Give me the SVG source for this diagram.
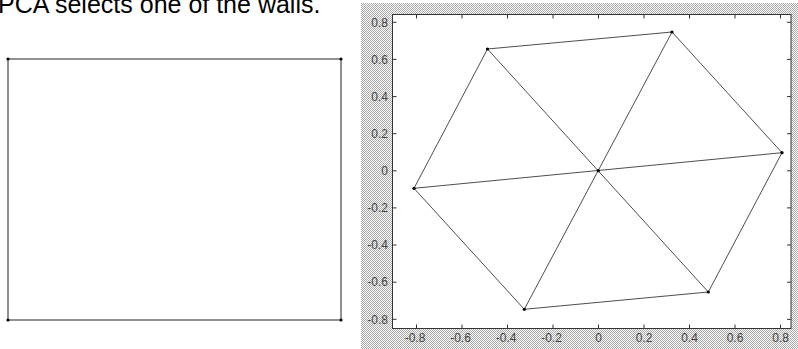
<svg xmlns="http://www.w3.org/2000/svg" width="798" height="349" viewBox="0 0 798 349">
<defs>
<pattern id="dither" width="2" height="2" patternUnits="userSpaceOnUse">
<rect width="2" height="2" fill="#ffffff"/>
<rect x="0" y="0" width="1" height="1" fill="#a8a8a8"/>
<rect x="1" y="1" width="1" height="1" fill="#a8a8a8"/>
</pattern>
<style>
.title{font-family:"Liberation Sans",Arial,sans-serif;font-size:25px;fill:#000}
.wall{stroke:#6e6e6e;stroke-width:1.5;fill:none}
.edge{stroke:#3a3a3a;stroke-width:0.9;fill:none}
.dot{fill:#000}
.tick{stroke:#333;stroke-width:1}
.lbl{font-family:"Liberation Sans",Arial,sans-serif;font-size:12px;fill:#444}
</style>
</defs>
<rect width="798" height="349" fill="#fff"/>
<text class="title" x="-2" y="12.5">PCA selects one of the walls.</text>

<g id="square">
<rect class="wall" x="8" y="59" width="333" height="261"/>
<circle class="dot" cx="8" cy="59" r="1.6"/>
<circle class="dot" cx="341" cy="59" r="1.6"/>
<circle class="dot" cx="8" cy="320" r="1.6"/>
<circle class="dot" cx="341" cy="320" r="1.6"/>
</g>

<g id="plot-frame">
<rect x="361" y="3" width="437" height="346" fill="url(#dither)"/>
<rect x="392.5" y="14.5" width="398.5" height="314" fill="#fff" stroke="#333" stroke-width="1"/>
<g class="tick">
<path d="M416.5 328.5v-4M462 328.5v-4M507.5 328.5v-4M553 328.5v-4M598.5 328.5v-4M644 328.5v-4M689.5 328.5v-4M735 328.5v-4M780.5 328.5v-4"/>
<path d="M416.5 14.5v4M462 14.5v4M507.5 14.5v4M553 14.5v4M598.5 14.5v4M644 14.5v4M689.5 14.5v4M735 14.5v4M780.5 14.5v4"/>
<path d="M392.5 22.3h4M392.5 59.4h4M392.5 96.6h4M392.5 133.7h4M392.5 170.8h4M392.5 207.9h4M392.5 245h4M392.5 282.2h4M392.5 319.3h4"/>
<path d="M791 22.3h-4M791 59.4h-4M791 96.6h-4M791 133.7h-4M791 170.8h-4M791 207.9h-4M791 245h-4M791 282.2h-4M791 319.3h-4"/>
</g>
<g class="lbl" text-anchor="end">
<text x="388" y="26.5">0.8</text>
<text x="388" y="63.6">0.6</text>
<text x="388" y="100.8">0.4</text>
<text x="388" y="137.9">0.2</text>
<text x="388" y="175">0</text>
<text x="388" y="212.1">-0.2</text>
<text x="388" y="249.2">-0.4</text>
<text x="388" y="286.4">-0.6</text>
<text x="388" y="323.5">-0.8</text>
</g>
<g class="lbl" text-anchor="middle">
<text x="415" y="341.5">-0.8</text>
<text x="460.5" y="341.5">-0.6</text>
<text x="506" y="341.5">-0.4</text>
<text x="551.5" y="341.5">-0.2</text>
<text x="598.5" y="341.5">0</text>
<text x="644" y="341.5">0.2</text>
<text x="689.5" y="341.5">0.4</text>
<text x="735" y="341.5">0.6</text>
<text x="780.5" y="341.5">0.8</text>
</g>
</g>

<g id="connectors">
<path class="edge" d="M487.5 49 L672 32 L782 152.7 L708.3 292 L524.3 309.3 L414 188.3 Z"/>
<path class="edge" d="M487.5 49 L708.3 292"/>
<path class="edge" d="M672 32 L524.3 309.3"/>
<path class="edge" d="M414 188.3 L782 152.7"/>
</g>

<g id="node-a"><circle class="dot" cx="487.5" cy="49" r="1.6"/></g>
<g id="node-b"><circle class="dot" cx="672" cy="32" r="1.6"/></g>
<g id="node-c"><circle class="dot" cx="782" cy="152.7" r="1.6"/></g>
<g id="node-d"><circle class="dot" cx="708.3" cy="292" r="1.6"/></g>
<g id="node-e"><circle class="dot" cx="524.3" cy="309.3" r="1.6"/></g>
<g id="node-f"><circle class="dot" cx="414" cy="188.3" r="1.6"/></g>
<g id="node-center"><circle class="dot" cx="598.3" cy="170.7" r="1.6"/></g>
</svg>
